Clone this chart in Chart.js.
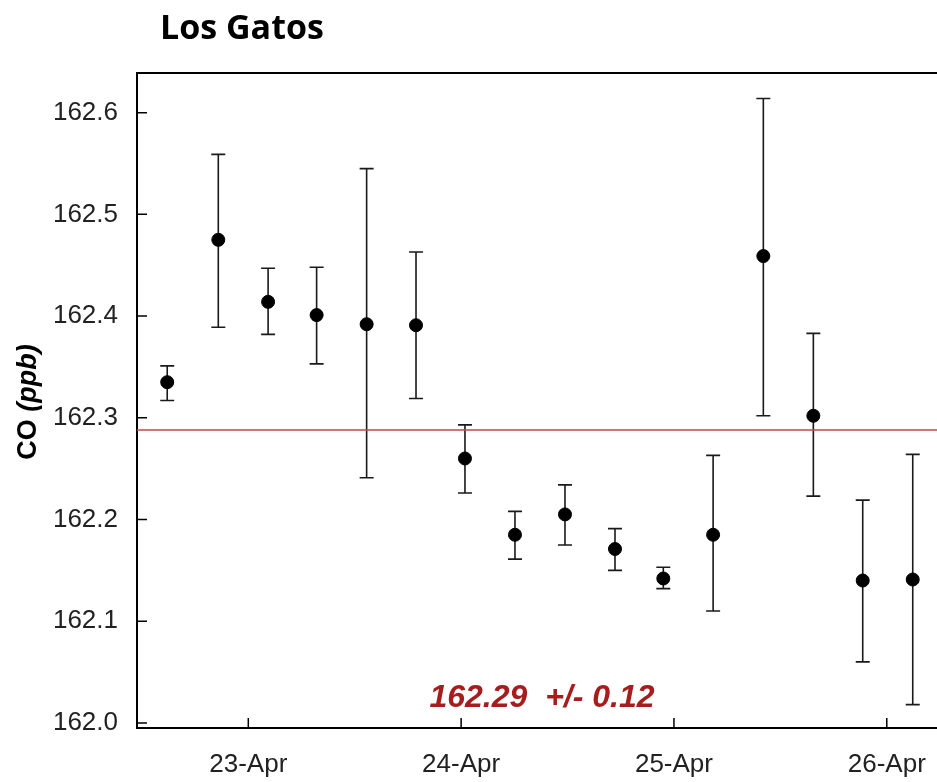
<!DOCTYPE html>
<html lang="en">
<head>
<meta charset="UTF-8">
<title>Los Gatos CO</title>
<style>
  html, body { margin: 0; padding: 0; background: #fff; }
  #wrap { width: 937px; height: 782px; }
</style>
</head>
<body>
<div id="wrap"><canvas id="coChart"></canvas></div>
<script src="https://cdn.jsdelivr.net/npm/chart.js"></script>
<script>
// sample times as fractional day of April
const days = [22.619, 22.859, 23.093, 23.321, 23.556, 23.788, 24.018, 24.253,
              24.488, 24.723, 24.950, 25.184, 25.420, 25.655, 25.887, 26.122];
const coValues = [162.335, 162.475, 162.414, 162.401, 162.392, 162.391, 162.260, 162.185,
                  162.205, 162.171, 162.142, 162.185, 162.459, 162.302, 162.140, 162.141];
const errLow = [162.317, 162.389, 162.382, 162.353, 162.241, 162.319, 162.226, 162.161,
                162.175, 162.150, 162.132, 162.110, 162.302, 162.223, 162.060, 162.018];
const errHigh = [162.351, 162.559, 162.447, 162.448, 162.545, 162.463, 162.293, 162.208,
                 162.234, 162.191, 162.153, 162.263, 162.614, 162.383, 162.219, 162.264];

const meanValue = 162.288;
const spread = 0.12;

const yTickValues = [162.0, 162.1, 162.2, 162.3, 162.4, 162.5, 162.6];
const xTickValues = [23, 24, 25, 26];
const xTickLabels = ['23-Apr', '24-Apr', '25-Apr', '26-Apr'];

const xMin = 22.477, xMax = 26.236;
const yMin = 161.995, yMax = 162.639;

const sansFont = '"Liberation Sans", Arial, sans-serif';

// error bars, inward tick marks, top frame line, titles
const extras = {
  id: 'extras',
  beforeDatasetsDraw(chart) {
    const ctx = chart.ctx;
    const xs = chart.scales.x, ys = chart.scales.y;
    ctx.save();
    ctx.strokeStyle = '#1a1a1a';
    ctx.lineWidth = 1.6;
    days.forEach((d, i) => {
      const px = xs.getPixelForValue(d);
      const top = ys.getPixelForValue(errHigh[i]);
      const bot = ys.getPixelForValue(errLow[i]);
      ctx.beginPath();
      ctx.moveTo(px, top); ctx.lineTo(px, bot);
      ctx.moveTo(px - 7, top); ctx.lineTo(px + 7, top);
      ctx.moveTo(px - 7, bot); ctx.lineTo(px + 7, bot);
      ctx.stroke();
    });
    ctx.restore();
  },
  afterDraw(chart) {
    const ctx = chart.ctx;
    const area = chart.chartArea;
    const xs = chart.scales.x, ys = chart.scales.y;
    ctx.save();
    ctx.strokeStyle = '#000';
    ctx.lineWidth = 2;
    ctx.beginPath();
    ctx.moveTo(area.left, area.top);
    ctx.lineTo(area.right, area.top);
    ctx.stroke();
    ctx.lineWidth = 1.5;
    ctx.beginPath();
    yTickValues.forEach(v => {
      const py = ys.getPixelForValue(v);
      ctx.moveTo(area.left, py); ctx.lineTo(area.left + 10, py);
    });
    xTickValues.forEach(v => {
      const px = xs.getPixelForValue(v);
      ctx.moveTo(px, area.bottom); ctx.lineTo(px, area.bottom - 10);
    });
    ctx.stroke();

    // chart title
    ctx.fillStyle = '#000';
    ctx.textAlign = 'left';
    ctx.textBaseline = 'alphabetic';
    ctx.font = 'bold 34px "Open Sans", sans-serif';
    ctx.fillText('Los Gatos', 160, 39);

    // y axis title, mixed bold / bold italic
    const partA = 'CO ', partB = '(ppb)';
    ctx.font = 'bold 27px ' + sansFont;
    const wA = ctx.measureText(partA).width;
    ctx.font = 'italic bold 27px ' + sansFont;
    const wB = ctx.measureText(partB).width;
    ctx.translate(36, 402 + (wA + wB) / 2);
    ctx.rotate(-Math.PI / 2);
    ctx.font = 'bold 27px ' + sansFont;
    ctx.fillText(partA, 0, 0);
    ctx.font = 'italic bold 27px ' + sansFont;
    ctx.fillText(partB, wA, 0);
    ctx.setTransform(1, 0, 0, 1, 0, 0);

    // mean annotation
    ctx.fillStyle = '#a51d1d';
    ctx.font = 'italic bold 32px ' + sansFont;
    ctx.textAlign = 'center';
    ctx.textBaseline = 'middle';
    ctx.fillText(meanValue.toFixed(2) + '  +/- ' + spread.toFixed(2), 542, 698);
    ctx.restore();
  }
};

new Chart(document.getElementById('coChart'), {
  type: 'scatter',
  data: {
    datasets: [
      {
        label: 'CO',
        data: days.map((d, i) => ({ x: d, y: coValues[i] })),
        backgroundColor: '#000',
        borderColor: '#000',
        pointRadius: 6.5,
        pointHoverRadius: 6.5,
        order: 1
      },
      {
        label: 'mean',
        type: 'line',
        data: [{ x: xMin, y: meanValue }, { x: xMax, y: meanValue }],
        borderColor: '#c04848',
        borderWidth: 1.5,
        pointRadius: 0,
        order: 2
      }
    ]
  },
  options: {
    responsive: true,
    maintainAspectRatio: false,
    animation: false,
    layout: { autoPadding: false, padding: { top: 73, right: 0, left: 0, bottom: 0 } },
    plugins: {
      legend: { display: false },
      tooltip: { enabled: false },
      title: { display: false }
    },
    scales: {
      x: {
        type: 'linear',
        min: xMin,
        max: xMax,
        afterBuildTicks: s => { s.ticks = xTickValues.map(v => ({ value: v })); },
        afterFit: s => { s.height = 54; s.paddingLeft = 0; s.paddingRight = 0; },
        ticks: {
          autoSkip: false,
          maxRotation: 0,
          padding: 21,
          color: '#222',
          font: { family: sansFont, size: 26 },
          callback: v => xTickLabels[xTickValues.indexOf(v)]
        },
        grid: { display: false, drawTicks: false },
        border: { display: true, color: '#000', width: 2 }
      },
      y: {
        min: yMin,
        max: yMax,
        afterBuildTicks: s => { s.ticks = yTickValues.map(v => ({ value: v })); },
        afterFit: s => { s.width = 137; s.paddingTop = 0; s.paddingBottom = 0; },
        ticks: {
          padding: 19,
          color: '#222',
          font: { family: sansFont, size: 26 },
          callback: v => v.toFixed(1)
        },
        grid: { display: false, drawTicks: false },
        border: { display: true, color: '#000', width: 2 }
      }
    }
  },
  plugins: [extras]
});
</script>
</body>
</html>
